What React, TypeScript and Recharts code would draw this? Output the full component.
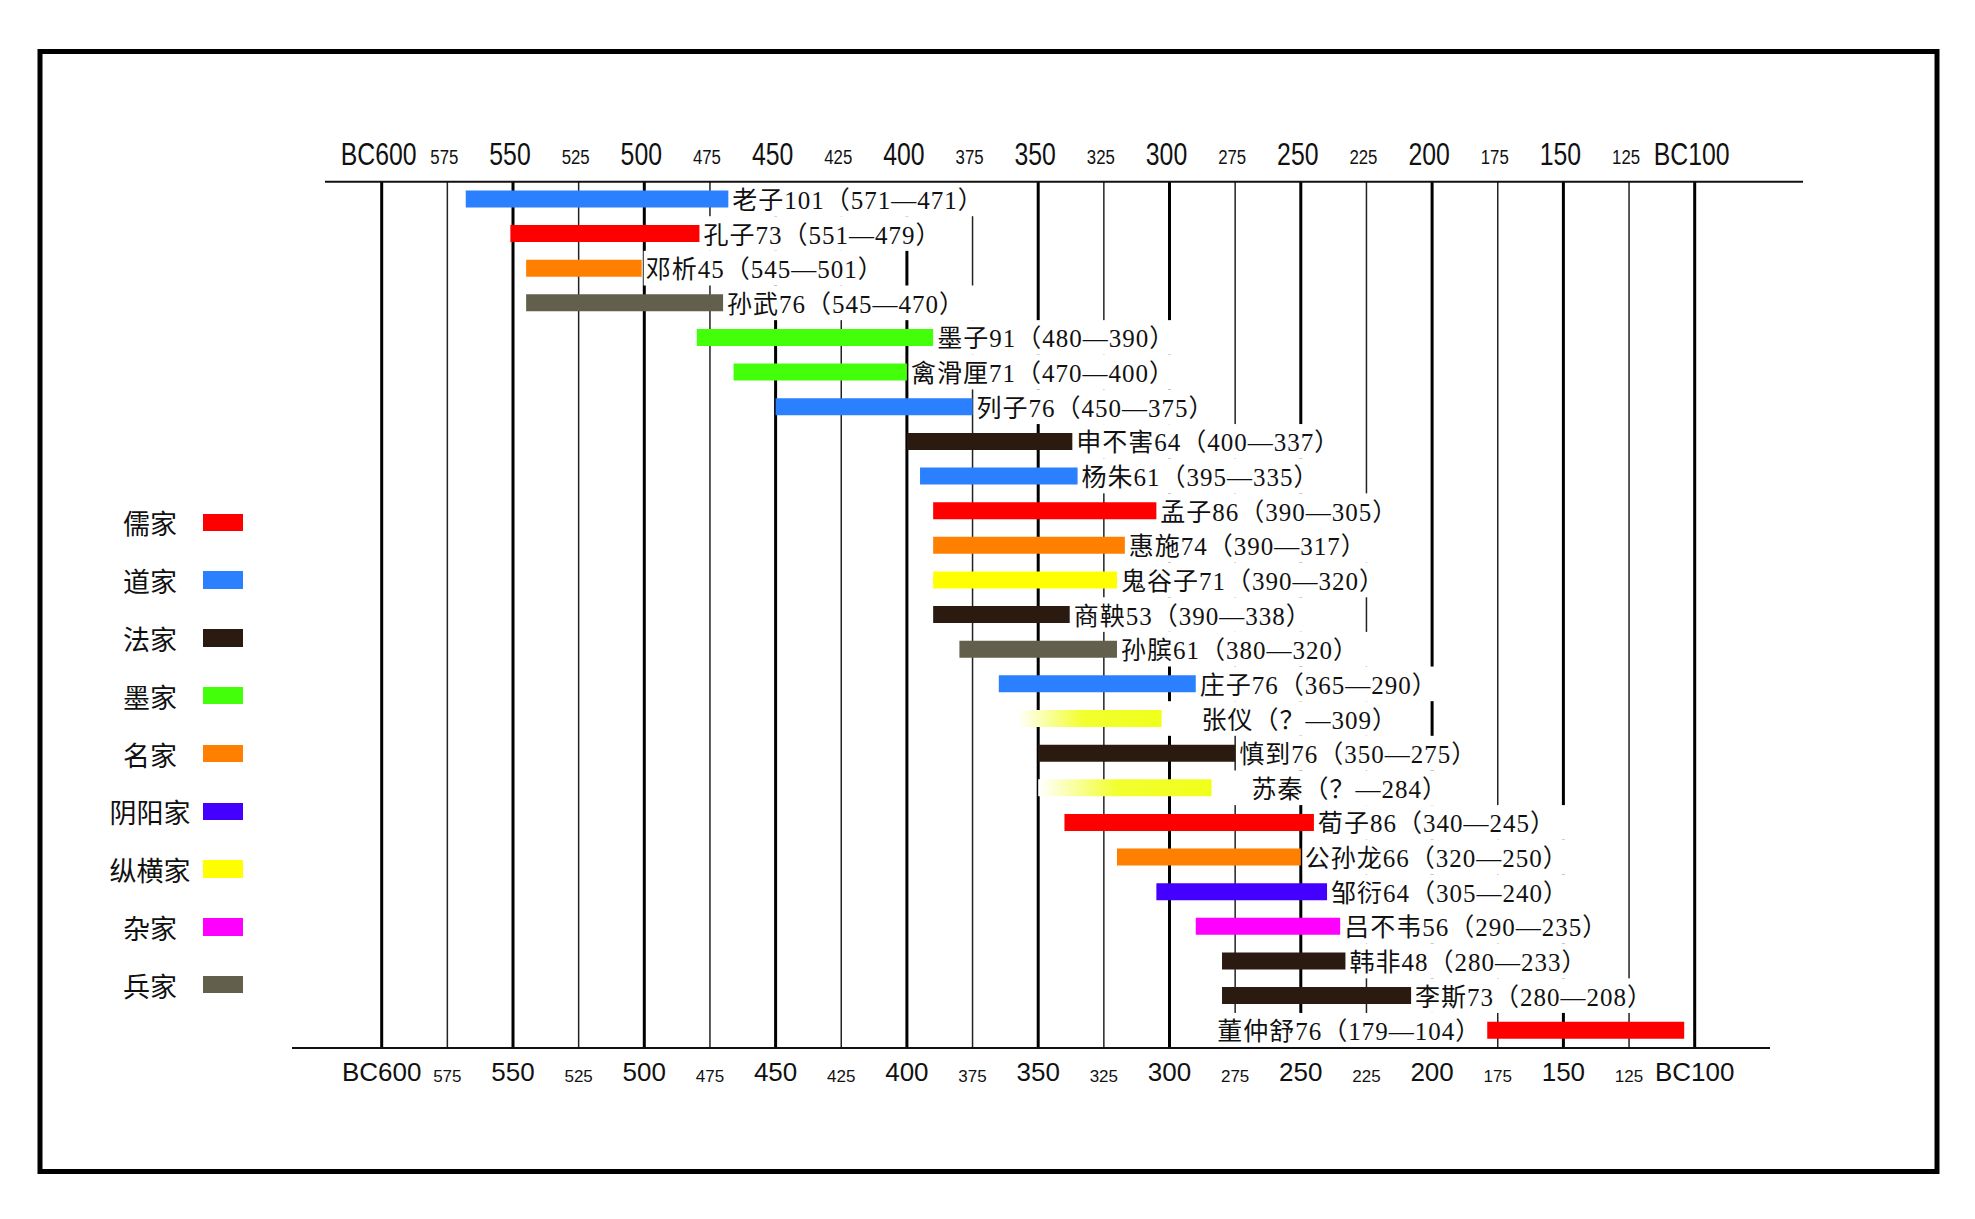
import { BarChart, Bar, XAxis, YAxis, CartesianGrid, LabelList, Cell } from "recharts";

// 先秦诸子生卒年（公元前）
const names = ["老子", "孔子", "邓析", "孙武", "墨子", "禽滑厘", "列子", "申不害", "杨朱", "孟子", "惠施", "鬼谷子", "商鞅", "孙膑", "庄子", "张仪", "慎到", "苏秦", "荀子", "公孙龙", "邹衍", "吕不韦", "韩非", "李斯", "董仲舒"];
const ages = [101, 73, 45, 76, 91, 71, 76, 64, 61, 86, 74, 71, 53, 61, 76, null, 76, null, 86, 66, 64, 56, 48, 73, 76];
const births = [571, 551, 545, 545, 480, 470, 450, 400, 395, 390, 390, 390, 390, 380, 365, null, 350, null, 340, 320, 305, 290, 280, 280, 179];
const deaths = [471, 479, 501, 470, 390, 400, 375, 337, 335, 305, 317, 320, 338, 320, 290, 309, 275, 284, 245, 250, 240, 235, 233, 208, 104];
// bar ends as drawn
const barStart = [568, 551, 545, 545, 480, 466, 450, 400, 395, 390, 390, 390, 390, 380, 365, 358, 350, 350, 340, 320, 305, 290, 280, 280, 179];
const barEnd = [468, 479, 501, 470, 390, 400, 375, 337, 335, 305, 317, 320, 338, 320, 290, 303, 275, 284, 245, 250, 240, 235, 233, 208, 104];
const schoolOf = ["道家", "儒家", "名家", "兵家", "墨家", "墨家", "道家", "法家", "道家", "儒家", "名家", "纵横家", "法家", "兵家", "道家", "纵横家", "法家", "纵横家", "儒家", "名家", "阴阳家", "杂家", "法家", "法家", "儒家"];

const schools = ["儒家", "道家", "法家", "墨家", "名家", "阴阳家", "纵横家", "杂家", "兵家"];
const schoolColors = ["#FF0000", "#2A80FF", "#2A1A10", "#44FF0A", "#FF7F00", "#4400FF", "#FFFF00", "#FF00FF", "#625F4C"];

const majorTicks = [600, 550, 500, 450, 400, 350, 300, 250, 200, 150, 100];
const minorTicks = [575, 525, 475, 425, 375, 325, 275, 225, 175, 125];

const data = names.map((name, i) => ({
  name,
  span: [barStart[i], barEnd[i]],
  school: schoolOf[i],
  unknown: births[i] === null,
  label: `${name}${ages[i] ?? ""}（${births[i] ?? "？"}—${deaths[i]}）`,
}));

const W = 1975;
const H = 1219;
const ROW = 34.64;
const FS = 25;
const LS = 1; // letter spacing of the bar labels
const labelFont = "'Liberation Serif', 'Noto Sans CJK SC', serif";
const sansFont = "'Liberation Sans', 'DejaVu Sans', sans-serif";

const fmt = (v: number) => (v === 600 || v === 100 ? `BC${v}` : `${v}`);

function textWidth(s: string) {
  let w = 0;
  for (const ch of s) w += (ch.charCodeAt(0) > 0x2000 ? FS : FS * 0.5) + LS;
  return w;
}

// condensed look: squeeze the sans font horizontally
function TopTick({ x, y, payload, size }: any) {
  return (
    <text transform={`translate(${x - 3},${y - 14}) scale(0.8,1)`} textAnchor="middle" fontSize={size}
      fontFamily={sansFont} fill="#111">
      {fmt(payload.value)}
    </text>
  );
}

function BottomTick({ x, y, payload, size }: any) {
  return (
    <text x={x} y={y + 32} textAnchor="middle" fontSize={size} fontFamily={sansFont} fill="#111">
      {fmt(payload.value)}
    </text>
  );
}

function BarLabel(props: any) {
  const { x, y, width, height, value } = props;
  const left = Math.min(x, x + width);
  const right = Math.max(x, x + width);
  const cy = y + height / 2;
  const tw = textWidth(String(value));
  const unknown = String(value).includes("？");
  let tx, bx, bw;
  if (right + tw + 20 > 1800) {
    // no room on the right: put it before the bar
    tx = left - 6 - tw;
    bx = tx - 4;
    bw = left - 2 - bx;
  } else {
    tx = right + (unknown ? 40 : 4);
    bx = right + 2;
    bw = tx + tw + 14 - bx;
  }
  return (
    <g>
      <rect x={bx} y={cy - ROW / 2} width={bw} height={ROW} fill="#fff" />
      <text x={tx} y={cy + 10} fontSize={FS} letterSpacing={LS} fontFamily={labelFont} fill="#111">
        {value}
      </text>
    </g>
  );
}

const axisCommon = {
  type: "number" as const,
  domain: [100, 600],
  allowDataOverflow: true,
  reversed: true,
  interval: 0,
  height: 1,
  axisLine: false,
  tickLine: false,
  tickSize: 0,
};

export default function App() {
  return (
    <div style={{ position: "relative", width: W, height: H, background: "#fff" }}>
      <style>{"body{margin:0}"}</style>

      <BarChart
        width={W}
        height={H}
        data={data}
        layout="vertical"
        barCategoryGap={0}
        margin={{ top: 179.4, right: 280.3, bottom: 169.6, left: 381.7 }}
      >
        <defs>
          <linearGradient id="unknownStart" x1="0" y1="0" x2="1" y2="0">
            <stop offset="0%" stopColor="#FFFFFF" />
            <stop offset="45%" stopColor="#F2FF30" />
            <stop offset="100%" stopColor="#F0FF1A" />
          </linearGradient>
        </defs>
        <XAxis xAxisId="maj" orientation="top" ticks={majorTicks} {...axisCommon} tick={(p: any) => <TopTick {...p} size={31} />} />
        <XAxis xAxisId="min" orientation="top" ticks={minorTicks} {...axisCommon} tick={(p: any) => <TopTick {...p} size={21} />} />
        <XAxis xAxisId="majB" orientation="bottom" ticks={majorTicks} {...axisCommon} tick={(p: any) => <BottomTick {...p} size={26} />} />
        <XAxis xAxisId="minB" orientation="bottom" ticks={minorTicks} {...axisCommon} tick={(p: any) => <BottomTick {...p} size={17} />} />
        <YAxis type="category" dataKey="name" hide />
        <CartesianGrid xAxisId="min" horizontal={false} stroke="#222" strokeWidth={1.5} />
        <CartesianGrid xAxisId="maj" horizontal={false} stroke="#000" strokeWidth={3} />
        <Bar xAxisId="maj" dataKey="span" barSize={17} isAnimationActive={false}>
          {data.map((d, i) => (
            <Cell key={i} fill={d.unknown ? "url(#unknownStart)" : schoolColors[schools.indexOf(d.school)]} />
          ))}
          <LabelList dataKey="label" content={(p: any) => <BarLabel {...p} />} />
        </Bar>
      </BarChart>

      {/* frame and axis lines */}
      <svg width={W} height={H} style={{ position: "absolute", left: 0, top: 0, pointerEvents: "none" }}>
        <rect x={40} y={51.5} width={1897} height={1120} fill="none" stroke="#000" strokeWidth={5} />
        <line x1={325} y1={181.7} x2={1803} y2={181.7} stroke="#111" strokeWidth={2} />
        <line x1={292} y1={1048} x2={1770} y2={1048} stroke="#111" strokeWidth={2} />
      </svg>

      {/* legend */}
      {schools.map((s, i) => {
        const cy = 522.3 + i * 57.8;
        return (
          <div key={s}>
            <div style={{ position: "absolute", left: 150, top: cy, transform: "translate(-50%, -50%)", fontSize: 27,
              fontFamily: "'Noto Sans CJK SC', sans-serif", color: "#111", whiteSpace: "nowrap", lineHeight: 1 }}>
              {s}
            </div>
            <div style={{ position: "absolute", left: 203, top: cy - 8.75, width: 40, height: 17.5, background: schoolColors[i] }} />
          </div>
        );
      })}
    </div>
  );
}
